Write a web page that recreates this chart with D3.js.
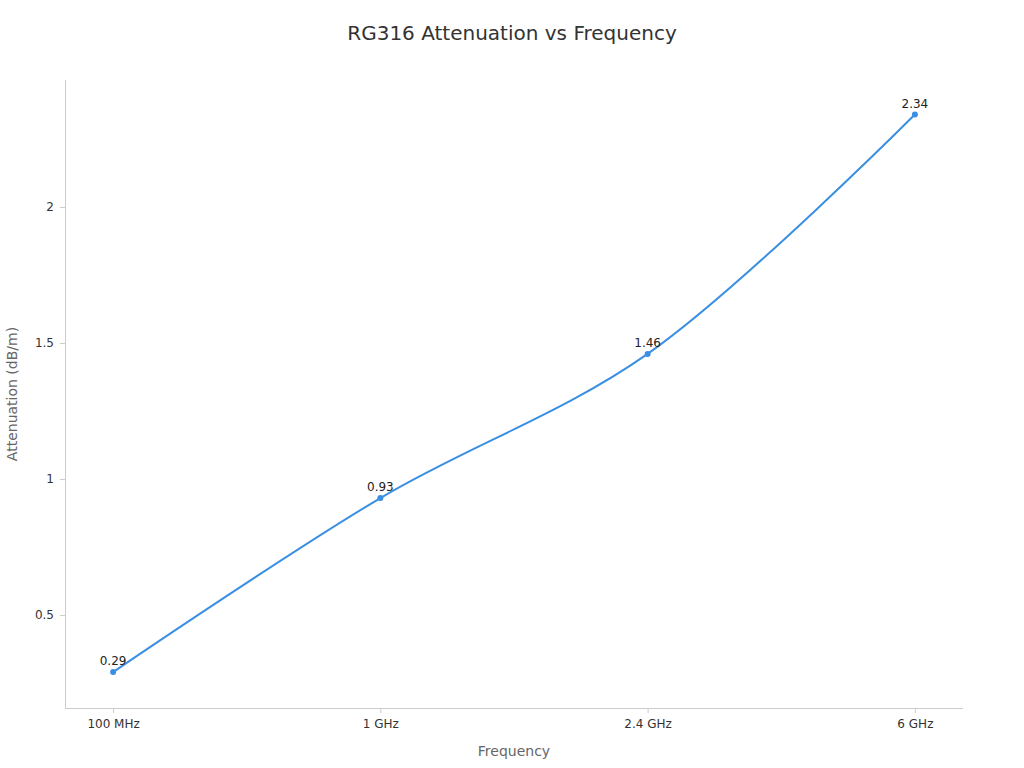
<!DOCTYPE html>
<html><head><meta charset="utf-8">
<script src="https://cdn.jsdelivr.net/npm/d3@7"></script>
<style>body{margin:0;background:#fff;font-family:"DejaVu Sans",sans-serif;}</style>
</head><body><svg id="c" width="1024" height="768"></svg>
<script>
const categories = ["100 MHz", "1 GHz", "2.4 GHz", "6 GHz"];
const attenuation = [0.29, 0.93, 1.46, 2.34];
const yTicks = [0.5, 1, 1.5, 2];

const svg = d3.select("#c");
const L = 65, R = 963, T = 80, B = 708;
const x = d3.scalePoint().domain(categories).range([L, R]).padding(0.18);
const y = d3.scaleLinear().domain([0.158, 2.467]).range([B, T]);
const axisColor = "#cccccc";

svg.append("text").attr("x", 512).attr("y", 40).attr("text-anchor", "middle")
  .attr("font-size", 20).attr("fill", "#333").text("RG316 Attenuation vs Frequency");

const gx = svg.append("g").attr("transform", `translate(0,${B})`)
  .call(d3.axisBottom(x).tickSize(5).tickPadding(6));
gx.select(".domain").attr("stroke", axisColor).attr("d", `M${L},0.5H${R}`);
gx.selectAll(".tick line").attr("stroke", axisColor);
gx.selectAll(".tick text").attr("font-size", 12).attr("fill", "#333").attr("font-family", "DejaVu Sans");

const gy = svg.append("g").attr("transform", `translate(${L},0)`)
  .call(d3.axisLeft(y).tickValues(yTicks).tickFormat(d3.format("")).tickSize(5).tickPadding(6));
gy.select(".domain").attr("stroke", axisColor).attr("d", `M0.5,${T}V${B}`);
gy.selectAll(".tick line").attr("stroke", axisColor);
gy.selectAll(".tick text").attr("font-size", 12).attr("fill", "#333").attr("font-family", "DejaVu Sans");

svg.append("text").attr("x", (L + R) / 2).attr("y", 756).attr("text-anchor", "middle")
  .attr("font-size", 14).attr("fill", "#666").text("Frequency");
svg.append("text").attr("transform", `translate(17,${(T + B) / 2}) rotate(-90)`)
  .attr("text-anchor", "middle").attr("font-size", 14).attr("fill", "#666").text("Attenuation (dB/m)");

const data = categories.map((c, i) => ({c, v: attenuation[i]}));
const color = "#3a8fe3";
svg.append("path").datum(data).attr("fill", "none").attr("stroke", color).attr("stroke-width", 2)
  .attr("d", d3.line().x(d => x(d.c)).y(d => y(d.v)).curve(d3.curveCatmullRom.alpha(0.5)));
svg.selectAll("circle.p").data(data).join("circle").attr("cx", d => x(d.c)).attr("cy", d => y(d.v))
  .attr("r", 3).attr("fill", color);
svg.selectAll("text.lbl").data(data).join("text").attr("class", "lbl")
  .attr("x", d => x(d.c)).attr("y", d => y(d.v) - 7).attr("text-anchor", "middle")
  .attr("font-size", 12).attr("fill", "#222").text(d => d.v);
</script></body></html>
